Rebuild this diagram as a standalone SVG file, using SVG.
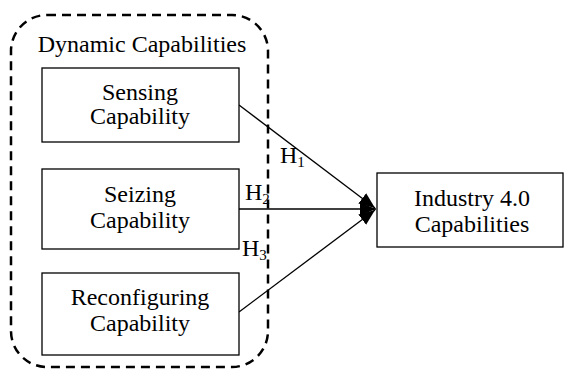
<svg xmlns="http://www.w3.org/2000/svg" width="565" height="370" viewBox="0 0 565 370">
<defs>
<style>
text{font-family:"Liberation Serif","Times New Roman",serif;font-size:24px;fill:#000}
.box{fill:#fff;stroke:#000;stroke-width:1.3}
.c{text-anchor:middle}
.ln{stroke:#000;stroke-width:1.3;fill:none}
.sub{font-size:15px}
</style>
<marker id="ah" viewBox="0 0 16 14" refX="16" refY="7" markerWidth="16" markerHeight="14" markerUnits="userSpaceOnUse" orient="auto">
<path d="M0,0.5 L16,7 L0,13.5 Z" fill="#000"/>
</marker>
</defs>
<rect x="0" y="0" width="565" height="370" fill="#fff"/>
<g id="group-dynamic">
<rect x="11" y="15" width="257" height="352" rx="36" ry="36" fill="none" stroke="#000" stroke-width="2.5" stroke-dasharray="9,6"/>
<text x="142" y="52" class="c">Dynamic Capabilities</text>
</g>
<g id="connectors">
<line class="ln" x1="239" y1="105" x2="375" y2="208" marker-end="url(#ah)"/>
<line class="ln" x1="239" y1="209" x2="376" y2="209" marker-end="url(#ah)"/>
<line class="ln" x1="239" y1="312" x2="375" y2="210" marker-end="url(#ah)"/>
<text x="280" y="163">H<tspan class="sub" dy="4">1</tspan></text>
<text x="245" y="200">H<tspan class="sub" dy="4">2</tspan></text>
<text x="242" y="256">H<tspan class="sub" dy="4">3</tspan></text>
</g>
<g id="sensing">
<rect class="box" x="42" y="68" width="197" height="74"/>
<text x="140" y="100" class="c">Sensing</text>
<text x="140" y="124" class="c">Capability</text>
</g>
<g id="seizing">
<rect class="box" x="42" y="169" width="197" height="80"/>
<text x="140" y="202" class="c">Seizing</text>
<text x="140" y="228" class="c">Capability</text>
</g>
<g id="reconfiguring">
<rect class="box" x="42" y="273" width="197" height="82"/>
<text x="140" y="305" class="c">Reconfiguring</text>
<text x="140" y="331" class="c">Capability</text>
</g>
<g id="industry">
<rect class="box" x="377" y="173" width="186" height="74"/>
<text x="472" y="206" class="c">Industry 4.0</text>
<text x="472" y="232" class="c">Capabilities</text>
</g>
</svg>
